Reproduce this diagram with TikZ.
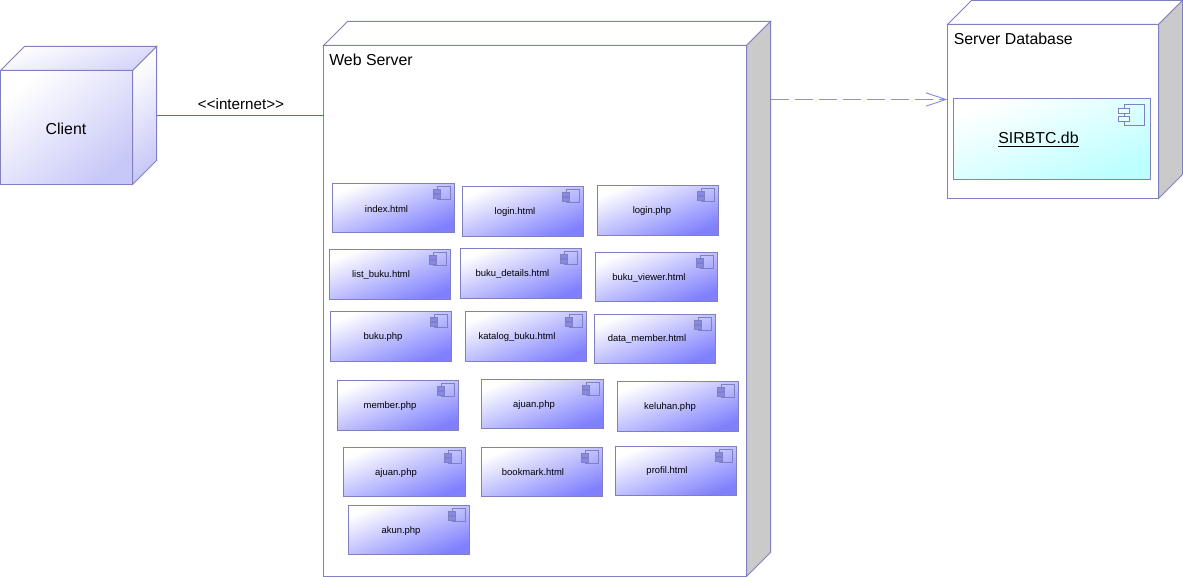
\documentclass[tikz,border=0pt]{standalone}
\usepackage{fontspec}
\setmainfont{Liberation Sans}
\usetikzlibrary{arrows.meta}
\definecolor{edgeblue}{HTML}{8080C0}
\definecolor{gradend}{HTML}{8080FF}
\definecolor{clientend}{HTML}{C8C8F8}
\definecolor{dbend}{HTML}{BBFFFF}
\definecolor{sidegray}{HTML}{CACACA}
\definecolor{linkblue}{HTML}{2A78D8}
\definecolor{depblue}{HTML}{8C8CF0}
\definecolor{pinfill}{HTML}{8888E8}
\tikzset{
  x=0.75pt,y=-0.75pt,
  edge/.style={draw=edgeblue,line width=0.75pt,line join=miter},
  compbox/.style={edge,left color=white,right color=gradend,shading angle=22},
  dbbox/.style={edge,left color=white,right color=dbend,shading angle=22},
  whiteface/.style={edge,fill=white},
  grayface/.style={edge,fill=sidegray},
  lightface/.style={edge,left color=white,right color=clientend,shading angle=40},
  iconmain/.style={draw=edgeblue,line width=0.75pt,fill=none},
  iconpin/.style={draw=edgeblue,line width=0.6pt,fill=pinfill},
  iconpindb/.style={draw=edgeblue,line width=0.6pt,fill=white!60!dbend},
  comptext/.style={font=\fontsize{7.1pt}{8pt}\selectfont,inner sep=0pt,text=black},
  nodetext/.style={font=\fontsize{11.9pt}{14pt}\selectfont,inner sep=0pt,text=black},
  hull/.style={inner sep=0pt,outer sep=0pt,draw=none,fill=none},
  link/.style={draw=linkblue,line width=0.75pt},
  dep/.style={draw=depblue,line width=0.75pt,dash pattern=on 13.6pt off 4.4pt,
    -{Straight Barb[length=15pt,width=10pt,line width=0.75pt]}},
}
% name, x0, y0, x1, y1, text cx, text cy, text
\newcommand{\compnode}[8]{%
  \path[compbox] (#2,#3) rectangle (#4,#5);
  \path[iconmain] (#4-17,#3+3) rectangle (#4-4,#3+16);
  \path[iconpin] (#4-21,#3+6) rectangle (#4-14,#3+10);
  \path[iconpin] (#4-21,#3+11) rectangle (#4-14,#3+15);
  \node[comptext] (#1) at (#6,#7+0.7) {#8};
}
\begin{document}
\begin{tikzpicture}
\useasboundingbox (0,0) rectangle (1183,577);
% hulls
\node[hull,minimum width=117.4pt,minimum height=103.5pt] (clienthull) at (78.25,115.5) {};
\node[hull,minimum width=335.25pt,minimum height=416.25pt] (webhull) at (547,299) {};
\node[hull,minimum width=176.25pt,minimum height=148.5pt] (dbhull) at (1065,99.5) {};
\coordinate (depy) at (0,99.5);
% client cube
\path[lightface] (132.5,70.5) -- (156.5,46.5) -- (156.5,160.5) -- (132.5,184.5) -- cycle;
\path[edge,left color=white,right color=clientend!80!white,shading angle=20] (0.5,70.5) -- (24.5,46.5) -- (156.5,46.5) -- (132.5,70.5) -- cycle;
\path[lightface] (0.5,70.5) rectangle (132.5,184.5);
\node[nodetext] (client) at (66,128.5) {Client};
% web server cube
\path[whiteface] (323.5,45.5) -- (347.5,21.5) -- (770.5,21.5) -- (746.5,45.5) -- cycle;
\path[grayface] (746.5,45.5) -- (770.5,21.5) -- (770.5,552.5) -- (746.5,576.5) -- cycle;
\path[whiteface] (323.5,45.5) rectangle (746.5,576.5);
\node[nodetext,anchor=west] (web) at (329,59.5) {Web Server};
% database cube
\path[whiteface] (947.5,24.5) -- (971.5,0.5) -- (1182.5,0.5) -- (1158.5,24.5) -- cycle;
\path[grayface] (1158.5,24.5) -- (1182.5,0.5) -- (1182.5,174.5) -- (1158.5,198.5) -- cycle;
\path[whiteface] (947.5,24.5) rectangle (1158.5,198.5);
\node[nodetext,anchor=west] (db) at (953.5,38.5) {Server Database};
% db component
\path[dbbox] (953.5,98.5) rectangle (1150.5,179.5);
\path[iconmain] (1124.5,104.5) rectangle (1144.5,125.5);
\path[iconpindb] (1118.5,108.5) rectangle (1129.5,113.5);
\path[iconpindb] (1118.5,116.5) rectangle (1129.5,121.5);
\node[nodetext] (sirbtc) at (1038.5,139.5) {\underline{SIRBTC.db}};
% components
\compnode{c1}{332.5}{183.5}{454.5}{232.5}{386.5}{208}{index.html}
\compnode{c2}{462.5}{186.5}{583.5}{236.5}{515}{211}{login.html}
\compnode{c3}{597.5}{185.5}{718.5}{235.5}{652}{210}{login.php}
\compnode{c4}{329.5}{249.5}{450.5}{299.5}{381}{274}{list\_buku.html}
\compnode{c5}{460.5}{248.5}{581.5}{298.5}{512.5}{273}{buku\_details.html}
\compnode{c6}{595.5}{252.5}{717.5}{301.5}{649}{277}{buku\_viewer.html}
\compnode{c7}{330.5}{311.5}{451.5}{361.5}{383}{336}{buku.php}
\compnode{c8}{465.5}{311.5}{586.5}{361.5}{517}{336}{katalog\_buku.html}
\compnode{c9}{594.5}{314.5}{715.5}{363.5}{647}{338}{data\_member.html}
\compnode{c10}{337.5}{380.5}{458.5}{430.5}{390}{405}{member.php}
\compnode{c11}{481.5}{379.5}{603.5}{428.5}{534}{404}{ajuan.php}
\compnode{c12}{617.5}{381.5}{738.5}{431.5}{670}{406}{keluhan.php}
\compnode{c13}{343.5}{447.5}{465.5}{496.5}{396}{472}{ajuan.php}
\compnode{c14}{481.5}{447.5}{602.5}{496.5}{533}{471}{bookmark.html}
\compnode{c15}{615.5}{446.5}{736.5}{495.5}{667}{470}{profil.html}
\compnode{c16}{348.5}{505.5}{469.5}{554.5}{401}{530}{akun.php}
% connectors
\draw[link] (clienthull.east) -- (clienthull.east -| webhull.west);
\node[font=\fontsize{11.4pt}{12pt}\selectfont,inner sep=0pt] (internet) at (241,104.5) {<{}<internet>{}>};
\draw[dep] (webhull.east |- depy) -- (dbhull.west |- depy);
\end{tikzpicture}
\end{document}
